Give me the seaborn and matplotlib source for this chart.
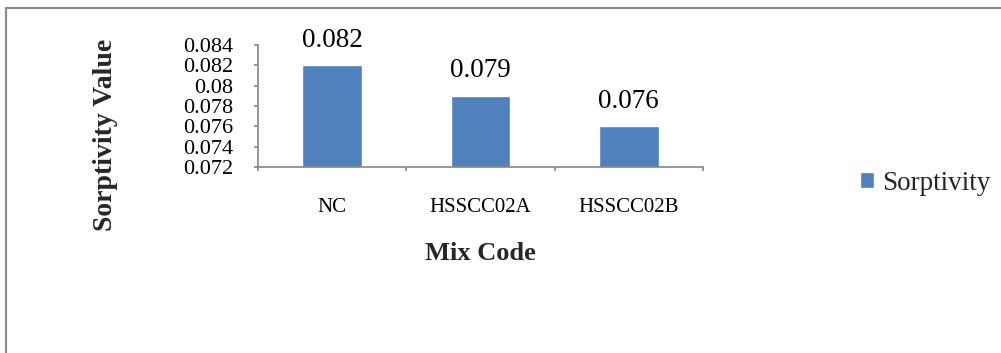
import numpy as np
import pandas as pd
import matplotlib
matplotlib.use("Agg")
import matplotlib.pyplot as plt
from matplotlib.lines import Line2D
from matplotlib.ticker import FuncFormatter
import seaborn as sns

# Sorptivity per mix
mix_codes = ["NC", "HSSCC02A", "HSSCC02B"]
sorptivity = [0.082, 0.079, 0.076]
series_name = "Sorptivity"
y_ticks = [0.072, 0.074, 0.076, 0.078, 0.080, 0.082, 0.084]

df = pd.DataFrame({"Mix Code": mix_codes, "Sorptivity Value": sorptivity,
                   "Series": [series_name] * len(mix_codes)})

sns.set_theme(style="white")
plt.rcParams["font.family"] = ["Liberation Serif", "DejaVu Serif"]

W, H = 1001, 353
fig = plt.figure(figsize=(W / 100, H / 100), dpi=100)
ax = fig.add_axes([258 / W, 1 - 167 / H, (703 - 258) / W, (167 - 45) / H])

sns.barplot(data=df, x="Mix Code", y="Sorptivity Value", hue="Series",
            palette=["#4F81BD"], width=0.4, ax=ax, saturation=1)

axis_grey = "#868686"
ax.set_ylim(y_ticks[0], y_ticks[-1])
ax.set_xlim(-0.5, len(mix_codes) - 0.5)
ax.set_yticks(y_ticks)
ax.yaxis.set_major_formatter(FuncFormatter(lambda v, p: f"{round(v, 3):g}"))
ax.set_xticks(range(len(mix_codes)))
ax.set_xticklabels(mix_codes)
ax.set_xticks(np.arange(len(mix_codes) + 1) - 0.5, minor=True)

ax.tick_params(axis="y", which="major", direction="out", length=3, width=1.2,
               color=axis_grey, labelsize=16, pad=15, left=True)
ax.tick_params(axis="x", which="major", length=0, labelsize=15, pad=22)
ax.tick_params(axis="x", which="minor", direction="out", length=3, width=1.2,
               color=axis_grey, bottom=True)
for lbl in ax.get_yticklabels() + ax.get_xticklabels():
    lbl.set_color("black")

for side in ["top", "right"]:
    ax.spines[side].set_visible(False)
for side in ["left", "bottom"]:
    ax.spines[side].set_color(axis_grey)
    ax.spines[side].set_linewidth(1.2)

ax.set_xlabel("")
ax.set_ylabel("")
ax.grid(False)

# value labels on the bars
ax.bar_label(ax.containers[0], fmt="{:.3f}", padding=9, fontsize=19.5, color="black")

# axis titles
fig.text(480.5 / W, 1 - 253 / H, "Mix Code", ha="center", va="center",
         fontsize=19, fontweight="bold")
fig.text(106 / W, 1 - 135 / H, "Sorptivity Value", ha="center", va="center",
         rotation=90, fontsize=20, fontweight="bold")

# legend to the right
handles, labels = ax.get_legend_handles_labels()
if ax.get_legend() is not None:
    ax.get_legend().remove()
fig.legend(handles, labels, loc="center left",
           bbox_to_anchor=(860 / W, 1 - 183 / H), frameon=False,
           fontsize=19.5, handlelength=0.5, handleheight=0.5,
           handletextpad=0.3, borderpad=0, borderaxespad=0)

# outer frame around the chart area
fig.add_artist(Line2D([6 / W, 6 / W], [0, 1 - 8 / H], transform=fig.transFigure,
                      color="#8c8c8c", linewidth=1.6))
fig.add_artist(Line2D([6 / W, 1], [1 - 8 / H, 1 - 8 / H], transform=fig.transFigure,
                      color="#8c8c8c", linewidth=1.6))

fig.savefig("out.png", dpi=100)
